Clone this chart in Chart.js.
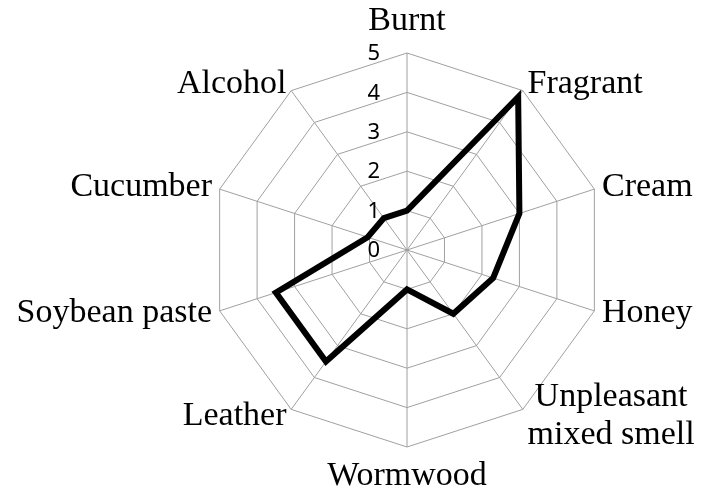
<!DOCTYPE html>
<html>
<head>
<meta charset="utf-8">
<script src="https://cdn.jsdelivr.net/npm/chart.js@4/dist/chart.umd.min.js"></script>
<style>
  html, body { margin: 0; padding: 0; background: #fff; }
  #wrap { width: 701px; height: 495px; position: relative; }
</style>
</head>
<body>
<div id="wrap"><canvas id="radarChart"></canvas></div>
<script>
const categories = ['Burnt', 'Fragrant', 'Cream', 'Honey', ['Unpleasant', 'mixed smell'],
  'Wormwood', 'Leather', 'Soybean paste', 'Cucumber', 'Alcohol'];
const scores = [1, 4.8, 3, 2.3, 2, 1, 3.5, 3.5, 1.05, 1];
const tickValues = [0, 1, 2, 3, 4, 5];

// draws the tick numbers to the left of the vertical axis, and the category labels
const labelPlugin = {
  id: 'labelPlugin',
  afterDraw(chart) {
    const scale = chart.scales.r;
    const ctx = chart.ctx;
    ctx.save();
    ctx.fillStyle = '#000';

    ctx.font = '22px "Noto Sans", "Open Sans", sans-serif';
    ctx.textAlign = 'right';
    ctx.textBaseline = 'middle';
    tickValues.forEach(v => {
      const d = scale.getDistanceFromCenterForValue(v);
      ctx.fillText(String(v), scale.xCenter - 27, scale.yCenter - d + 1);
    });

    ctx.font = '34px "Liberation Serif", "Times New Roman", serif';
    const lineH = 38;
    categories.forEach((lab, i) => {
      const lines = Array.isArray(lab) ? lab : [lab];
      const top = i === 0, bottom = i === categories.length / 2;
      const p = scale.getPointPosition(i, scale.drawingArea + (top ? 13 : bottom ? 10 : 8));
      const w = Math.max(...lines.map(s => ctx.measureText(s).width));
      let cx;
      if (p.x > scale.xCenter + 1) cx = p.x + w / 2;
      else if (p.x < scale.xCenter - 1) cx = p.x - w / 2;
      else cx = p.x;
      const blockH = lines.length * lineH;
      let y0;
      if (top) y0 = p.y - blockH;
      else if (bottom) y0 = p.y;
      else y0 = p.y - blockH / 2;
      ctx.textAlign = 'center';
      ctx.textBaseline = 'middle';
      lines.forEach((s, k) => ctx.fillText(s, cx, y0 + lineH * k + lineH / 2));
    });
    ctx.restore();
  }
};

new Chart(document.getElementById('radarChart').getContext('2d'), {
  type: 'radar',
  data: {
    labels: categories,
    datasets: [{
      label: 'Score',
      data: scores,
      borderColor: '#000',
      borderWidth: 6,
      pointRadius: 0,
      fill: false,
      tension: 0
    }]
  },
  options: {
    responsive: true,
    maintainAspectRatio: false,
    animation: false,
    layout: { padding: { top: 53, bottom: 48, left: 210, right: 97 } },
    plugins: { legend: { display: false }, tooltip: { enabled: false } },
    scales: {
      r: {
        min: 0,
        max: 5,
        ticks: { display: false, stepSize: 1 },
        grid: { color: '#a0a0a0', lineWidth: 1 },
        angleLines: { color: '#a0a0a0', lineWidth: 1 },
        pointLabels: { display: false }
      }
    }
  },
  plugins: [labelPlugin]
});
</script>
</body>
</html>
